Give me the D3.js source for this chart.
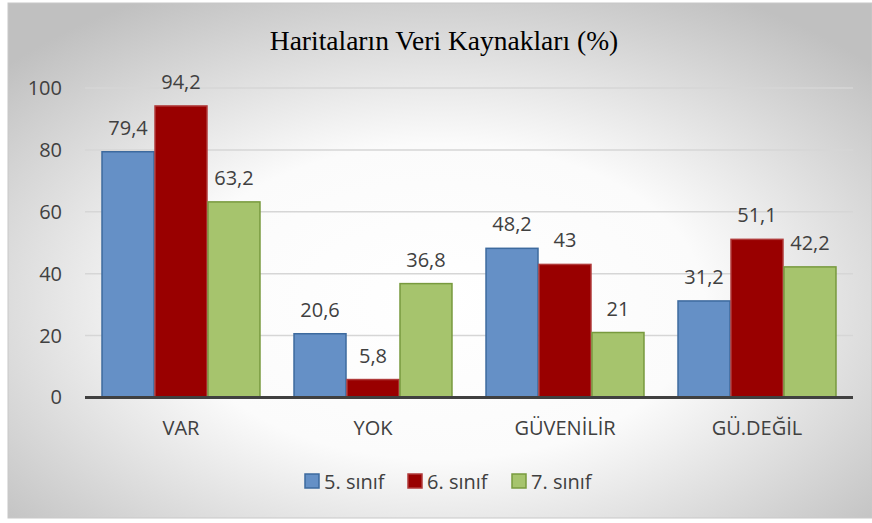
<!DOCTYPE html>
<html>
<head>
<meta charset="utf-8">
<script src="https://cdn.jsdelivr.net/npm/d3@7"></script>
<style>
  html, body { margin: 0; padding: 0; background: #ffffff; }
  svg { display: block; }
</style>
</head>
<body>
<script>
// Category labels, series and values
const categories = ["VAR", "YOK", "GÜVENİLİR", "GÜ.DEĞİL"];
const seriesNames = ["5. sınıf", "6. sınıf", "7. sınıf"];
const values5 = [79.4, 20.6, 48.2, 31.2];
const values6 = [94.2, 5.8, 43, 51.1];
const values7 = [63.2, 36.8, 21, 42.2];
const yTicks = [0, 20, 40, 60, 80, 100];
const titleText = "Haritaların Veri Kaynakları (%)";

const fills = ["#6590c6", "#990000", "#a6c46d"];
const strokes = ["#3d6a9e", "#b03a3a", "#789a3e"];

const W = 872, H = 523;
const svg = d3.select("body").append("svg").attr("width", W).attr("height", H);

// Background with soft radial shading
const defs = svg.append("defs");
const rg = defs.append("radialGradient").attr("id", "bg")
  .attr("cx", "50%").attr("cy", "58%").attr("r", "68%");
rg.append("stop").attr("offset", "0%").attr("stop-color", "#ffffff");
rg.append("stop").attr("offset", "45%").attr("stop-color", "#fbfbfb");
rg.append("stop").attr("offset", "100%").attr("stop-color", "#c0c0c0");

svg.append("rect").attr("x", 0).attr("y", 0).attr("width", W).attr("height", H).attr("fill", "#ffffff");
svg.append("rect").attr("x", 8).attr("y", 3).attr("width", 864).attr("height", 515)
  .attr("fill", "url(#bg)").attr("stroke", "#c8c8c8").attr("stroke-width", 1);

const plot = { left: 85, right: 853, top: 88, bottom: 397.5 };

const x = d3.scaleBand().domain(categories).range([plot.left, plot.right]).paddingInner(0.172).paddingOuter(0.086);
const xs = d3.scaleBand().domain(seriesNames).range([0, x.bandwidth()]).padding(0);
const y = d3.scaleLinear().domain([0, 100]).range([plot.bottom, plot.top]);

const font = "'Open Sans', 'Liberation Sans', sans-serif";
const fs = 20;

// Gridlines
svg.append("g").selectAll("line").data(yTicks.filter(d => d > 0)).join("line")
  .attr("x1", plot.left).attr("x2", plot.right)
  .attr("y1", d => y(d)).attr("y2", d => y(d))
  .attr("stroke", "#d6d6d6").attr("stroke-width", 1.5);

// Y axis labels
const yAxis = d3.axisLeft(y).tickValues(yTicks).tickSize(0).tickPadding(0);
const yg = svg.append("g").attr("transform", `translate(${62},0)`).call(yAxis);
yg.select(".domain").remove();
yg.selectAll("text").attr("font-family", font).attr("font-size", fs).attr("fill", "#404040");

// Bars
const seriesData = [values5, values6, values7];
const rows = [];
seriesData.forEach((vals, si) => vals.forEach((v, ci) => rows.push({ s: seriesNames[si], si, c: categories[ci], v })));

svg.append("g").selectAll("rect").data(rows).join("rect")
  .attr("x", d => x(d.c) + xs(d.s) + 0.5)
  .attr("y", d => y(d.v))
  .attr("width", xs.bandwidth() - 1)
  .attr("height", d => y(0) - y(d.v))
  .attr("fill", d => fills[d.si])
  .attr("stroke", d => strokes[d.si])
  .attr("stroke-width", 1.5);

// Value labels
svg.append("g").selectAll("text").data(rows).join("text")
  .attr("x", d => x(d.c) + xs(d.s) + xs.bandwidth() / 2)
  .attr("y", d => y(d.v) - 17)
  .attr("text-anchor", "middle")
  .attr("font-family", font).attr("font-size", fs).attr("fill", "#404040")
  .text(d => String(d.v).replace(".", ","));

// X axis
const xAxis = d3.axisBottom(x).tickSize(0).tickPadding(0);
const xg = svg.append("g").attr("transform", `translate(0,${plot.bottom})`).call(xAxis);
xg.select(".domain").remove();
xg.selectAll("text").attr("font-family", font).attr("font-size", fs).attr("fill", "#404040")
  .attr("dy", "0").attr("y", 37.5);
svg.append("line").attr("x1", plot.left).attr("x2", plot.right)
  .attr("y1", plot.bottom).attr("y2", plot.bottom)
  .attr("stroke", "#404040").attr("stroke-width", 3);

// Title
svg.append("text").attr("x", 444).attr("y", 50).attr("text-anchor", "middle")
  .attr("font-family", "'Liberation Serif', 'Times New Roman', serif").attr("font-size", 27.5)
  .attr("fill", "#000").text(titleText);

// Legend
const legendX = [305, 408, 512];
const lg = svg.append("g").selectAll("g").data(seriesNames).join("g")
  .attr("transform", (d, i) => `translate(${legendX[i]},${474})`);
lg.append("rect").attr("width", 14).attr("height", 14)
  .attr("fill", (d, i) => fills[i]).attr("stroke", (d, i) => strokes[i]).attr("stroke-width", 1.5);
lg.append("text").attr("x", 19).attr("y", 14.5)
  .attr("font-family", font).attr("font-size", fs).attr("fill", "#404040").text(d => d);
</script>
</body>
</html>
